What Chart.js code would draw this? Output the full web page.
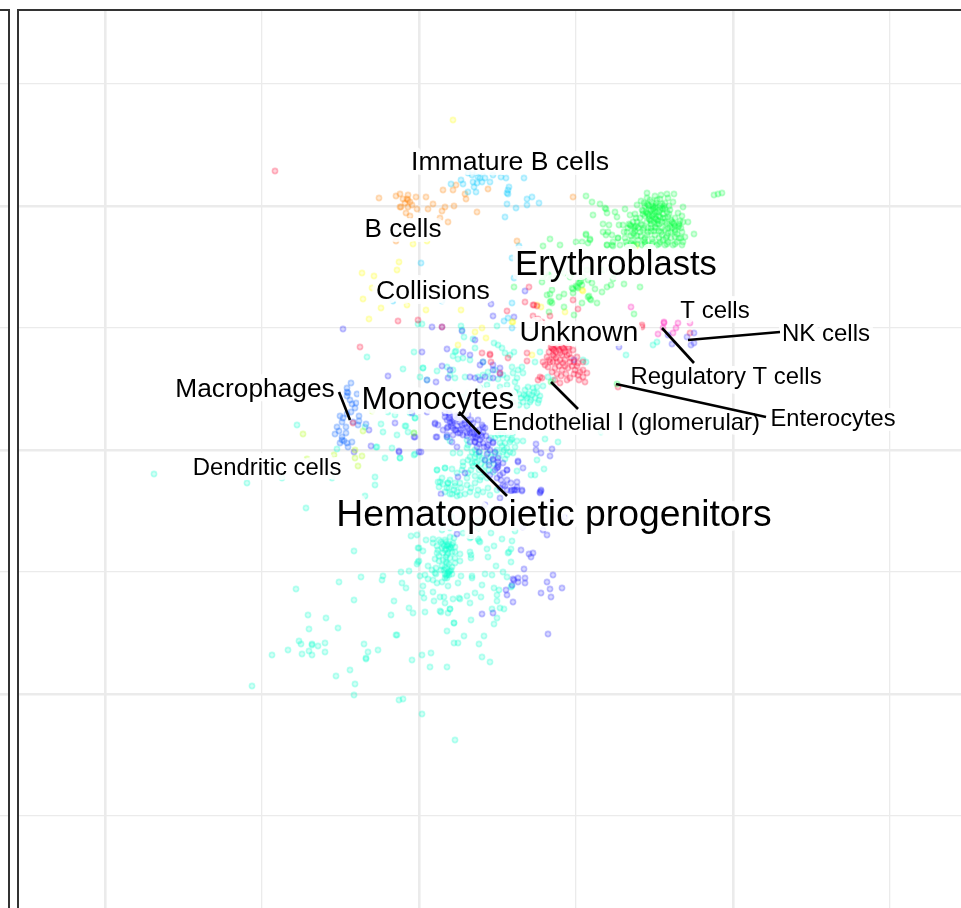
<!DOCTYPE html>
<html>
<head>
<meta charset="utf-8">
<style>
html, body { margin: 0; padding: 0; background: #fff; overflow: hidden; }
#left-panel { position: absolute; left: 0; top: 0; }
#main-panel { position: absolute; left: 0; top: 0; }
</style>
<script src="https://cdn.jsdelivr.net/npm/chart.js@4"></script>
</head>
<body>
<canvas id="main-panel" width="961" height="908"></canvas>
<canvas id="left-panel" width="10" height="908"></canvas>
<script>
// grid lines of the two facets
const xGrid = [-314, -157, 0, 157, 314, 471];
const yGrid = [366, 244, 122, 0, -122, -244, -366];
const xMajor = [-314, 0, 314];
const yMajor = [244, 0, -244];

// cell clouds, [x, y]
const hematopoietic = [[-65,-101],[-123,-139],[-80,-132],[-58,-127],[-37,-130],[-36,-126],[-18,-122],[-10,-121],[-8,-86],[-2,-85],[-1,-98],[0,-98],[4,-101],[-17,-133],[-13,-138],[-65,-150],[-25,-151],[-111,-165],[-93,-168],[-81,-178],[-110,-179],[-120,-191],[-118,-194],[-107,-194],[-107,-195],[-101,-196],[-94,-193],[-131,-200],[-147,-205],[-117,-204],[-110,-201],[-107,-205],[-94,-202],[-55,-194],[-51,-202],[-41,-200],[-53,-209],[-53,-208],[-23,-185],[-22,-185],[-28,-165],[-10,-158],[-6,-163],[6,-162],[21,-161],[29,-163],[31,-159],[35,-173],[28,-181],[52,-170],[45,-186],[65,-186],[35,-193],[39,-193],[60,-194],[3,-205],[12,-203],[-7,-210],[11,-217],[28,-217],[63,-207],[71,-212],[-69,-220],[-83,-226],[-64,-234],[-65,-245],[-20,-250],[-16,-249],[3,-264],[36,-290],[-167,-236],
[7,-90],[14,-89],[20,-90],[26,-90],[31,-87],[35,-88],[14,-93],[24,-94],[28,-95],[29,-96],[31,-97],[32,-98],[36,-97],[34,-93],[23,-98],[19,-100],[18,-103],[26,-100],[33,-102],[29,-103],[41,-104],[51,-102],[52,-105],[52,-108],[16,-109],[20,-111],[27,-107],[36,-108],[41,-111],[36,-113],[28,-113],[23,-116],[17,-118],[13,-120],[16,-123],[17,-124],[30,-122],[31,-121],[29,-123],[28,-125],[27,-126],[26,-118],[33,-117],[-1,-112],[0,-111],[-2,-114],[9,-116],[1,-126],[6,-125],[9,-129],[14,-130],[18,-133],[23,-132],[26,-128],[29,-136],[42,-126],[39,-133],[53,-126],[53,-128],[66,-124],[73,-125],[63,-135],[84,-122],[88,-127],[93,-136],[92,-137],[75,-138],[80,-140],[78,-145],[78,-151],[73,-159],[81,-158],[85,-159],[78,-168],[75,-174],[4,-136],[3,-143],[5,-148],[14,-142],[15,-151],[21,-147],[25,-147],[26,-153],[22,-162],[31,-159],[34,-149],[40,-148],[41,-149],[48,-146],[56,-143],[62,-147],[51,-153],[35,-173],[68,-99],[69,-107],[75,-96],[83,-89],[93,-91],[96,-81],[92,-99],[89,-103],[90,-102],[92,-112],[77,-116],[72,-83],[59,-78],[51,-88],[52,-87],[61,-92],[60,-91],[59,-89],[44,-83],[23,-80],[31,-78],
[28,13],[31,9],[34,-3],[41,-3],[49,5],[48,2],[53,-2],[56,0],[51,-7],[56,-7],[61,-2],[48,10],[79,15],[84,12],[89,15],[94,17],[86,7],[91,8],[81,7],[76,12],[88,2],[96,3],[78,0],[84,-2],[91,-2],[88,-5],[94,-3],[104,9],[118,-10],[126,11],[139,8],[98,-21],[112,-25],[116,-25],[125,-19],[44,-12],[44,-16],[49,-10],[53,-13],[56,-12],[43,-20],[49,-23],[18,-20],[26,-18],[33,-19],[38,-23],[23,-28],[31,-30],[19,-32],[20,-37],[28,-38],[35,-40],[41,-33],[48,-35],[41,-45],[51,-42],[56,-33],[61,-30],[59,-40],[64,-42],[69,-38],[58,-45],[71,-45],[48,-28],[78,-40],[36,-33],[29,-33],[33,-67],[43,-70],[49,-63],[26,-70],[59,-70],[22,-56],[72,-60],
[42,124],[43,120],[78,124],[45,113],[54,111],[75,107],[79,105],[83,102],[37,99],[34,94],[56,102],[44,92],[51,90],[39,91],[64,88],[86,97],[91,95],[95,98],[4,82],[18,79],[28,83],[34,80],[31,75],[36,72],[8,70],[46,73],[59,73],[64,75],[69,78],[76,80],[71,72],[79,71],[88,72],[94,77],[99,80],[103,83],[93,83],[84,75],[98,72],[104,77],[96,68],[88,65],[81,63],[68,65],[61,62],[49,57],[44,53],[34,58],[26,55],[18,53],[106,60],[109,63],[114,62],[118,63],[124,64],[102,52],[107,54],[113,55],[118,57],[121,54],[104,48],[111,48],[119,47],[116,88],[121,98],[129,73],[134,70],[164,90],[167,88],[96,58],[91,55],[94,48],
[-1,126],[3,126],[-5,98],[36,98],[-16,81],[-52,93],[4,82],[1,73],[-31,38],[-24,35],[-4,32],[-38,26],[-13,24],[-36,18],[-22,15],[-54,23],[-42,3],[-27,2],[-4,-4],[-19,-8],[18,-20],[26,-18],[-44,-27],[-44,-35],[-54,-46],[21,-32],[29,-33],[31,-44],[38,-42],[182,18],
[-122,25],[-265,-24],[-172,-33],[-137,-28],[-87,-28],[-113,-58],[-43,3],[-82,1],[-34,-8],[-19,-8],[-5,-5],[-14,24],[-11,18],[-5,17],[-9,37],[-4,32],[238,108],[234,105],[207,95],
[57,-4],[60,-6],[63,-8],[66,-10],[58,-12],[62,-14],[66,-16],[70,-12],[72,-7],[69,-3],[75,-14],[60,-20],[65,-22],[54,-16],[52,-20],[70,-20],[74,-22],[56,-26],[62,-27],[68,-28],[83,4],[85,0],[92,10],[80,-6],[76,-3],[86,-9],[98,9],[82,16],[88,18],[93,11],[72,12],
[22,-92],[25,-96],[27,-92],[30,-94],[33,-95],[27,-99],[30,-99],[24,-103],[28,-105],[31,-108],[24,-110],[27,-112],[30,-114],[25,-120],[28,-119],[32,-120],[30,-125],[26,-124],[22,-120],[33,-124],[28,-128],[18,-96],[36,-102],[20,-106],
[108,52],[112,50],[116,52],[110,56],[115,58],[105,55],[100,56],[98,62],[120,50],[100,45],[108,44],[24,-34],[30,-38],[36,-36],[42,-38],[26,-42],[33,-44],[38,-46],[46,-44],[52,-38]];

const monocytes = [[16,26],[19,25],[17,13],[24,20],[28,15],[34,15],[36,20],[29,23],[31,28],[41,17],[48,17],[53,18],[59,15],[66,22],[63,25],[56,8],[61,10],[64,7],[69,5],[56,13],[51,8],[74,7],[71,0],[66,-10],[74,-9],[79,-8],[79,-15],[78,-18],[88,-20],[99,-11],[104,-18],[71,-25],[81,-25],[46,-23],[39,-27],[22,-44],[117,6],[117,0],[122,-3],[133,1],[131,-6],[98,-32],[98,-37],[92,-41],[88,-40],[84,-35],[103,-41],[122,-40],[122,-41],[121,-43],[81,-38],[96,-40],
[31,35],[36,35],[39,32],[28,30],[33,27],[43,25],[48,23],[53,22],[58,18],[64,23],[51,17],[44,15],[28,22],[39,17],[26,37],[49,35],[54,27],[59,30],[63,13],[56,8],[28,13],[33,8],[38,3],[58,3],[74,8],[68,3],[74,-10],[79,-17],[84,-23],[88,-20],[99,-12],[93,-40],[98,-40],[103,-40],[121,-42],[36,33],[41,28],[46,30],[34,30],[50,26],[44,22],[55,16],[60,6],
[-76,121],[13,123],[23,123],[43,119],[56,110],[28,101],[3,98],[44,98],[51,95],[31,80],[23,84],[-31,74],[8,70],[17,68],[29,72],[51,73],[56,72],[61,70],[66,73],[64,88],[61,85],[74,85],[74,80],[81,82],[81,76],[74,72],[-7,37],[8,38],[16,27],[18,13],[-20,-2],[2,-2],[-48,4],[-4,13],[-65,-2],[72,146],[74,134],[155,90],[-50,20],[-24,27],[-5,13],[0,-2],[-20,-1],
[38,-84],[102,-100],[110,-104],[114,-103],[112,-107],[105,-119],[134,-125],[128,-132],[131,-139],[143,-138],[122,-143],[132,-147],[94,-129],[95,-130],[99,-128],[99,-132],[106,-128],[106,-133],[93,-135],[87,-140],[88,-145],[94,-152],[63,-164],[74,-163],[124,-80],[128,-85],[104,-77],[129,-184],[81,-48],[66,-55],[131,-52],[146,-67],[106,159],[95,133],[200,103],
[30,32],[35,29],[38,24],[42,20],[46,26],[50,20],[54,13],[57,12],[62,15],[32,24],[37,20],[40,34],[45,33],[30,37],[52,30],[48,14],[60,20],[64,18],[67,14],[34,22],[26,33],[70,10],[65,3],[60,-2],[68,-4],[76,-2],[79,-12],[84,-13],[76,-20],[82,-30],[88,-30],[92,-33],[95,-40],[86,-36],[78,-28],[70,-15]];

const macrophages = [[-68,67],[-72,62],[-72,58],[-71,57],[-72,54],[-62,56],[-69,50],[-67,46],[-63,47],[-64,42],[-68,38],[-72,36],[-79,34],[-76,32],[-77,28],[-82,23],[-73,23],[-66,28],[-60,34],[-60,29],[-61,25],[-53,26],[-80,19],[-84,16],[-73,17],[-77,13],[-79,7],[-75,9],[-72,7],[-67,8],[-71,3],[-77,10]];

const dendritic = [[-116,16],[-56,19],[-64,-8],[-57,-6],[-61,-16],[-64,0],[-85,-5],[-47,39],[-5,17],[-112,-9]];

const collisions = [[34,330],[-6,206],[8,209],[-20,188],[-22,180],[-57,177],[-45,174],[-47,162],[-56,151],[-12,145],[-38,142],[7,140],[42,140],[122,143],[163,160],[217,204],[-50,131],[56,118],[67,112],[63,122],[39,105],[93,128],[113,95],[118,145],[94,128],[146,138],[164,159]];

const bCells = [[-40,252],[-23,254],[-19,256],[-11,255],[-16,251],[-12,251],[-11,250],[-9,248],[-3,253],[-14,247],[-7,245],[-19,243],[-18,243],[-11,243],[-2,241],[7,253],[14,246],[9,241],[26,243],[35,244],[23,239],[24,260],[34,260],[37,265],[46,256],[47,251],[69,261],[58,238],[29,228],[21,232],[-13,237],[-23,209],[154,253],[98,209],[-9,234]];

const immatureB = [[32,266],[42,270],[44,266],[49,277],[53,275],[58,278],[64,278],[59,273],[54,268],[61,272],[58,267],[63,268],[66,272],[71,268],[74,275],[55,263],[49,258],[57,258],[82,273],[87,272],[105,272],[90,263],[89,260],[88,257],[89,256],[108,251],[113,253],[120,247],[88,246],[97,242],[108,245],[86,233],[2,187],[100,204],[93,192],[95,172],[-26,149],[23,149],[93,147],[85,129],[89,132],[93,122]];

const erythroblasts = [[124,204],[131,211],[141,205],[157,208],[163,208],[167,216],[171,211],[169,207],[95,163],[123,168],[133,160],[131,156],[128,155],[140,153],[145,156],[153,162],[154,161],[158,163],[159,162],[157,164],[161,168],[160,167],[162,169],[163,165],[154,157],[169,153],[170,154],[171,151],[172,150],[178,147],[163,147],[131,148],[132,149],[133,147],[130,138],[145,143],[155,135],[176,161],[173,167],[183,158],[188,163],[192,165],[194,171],[205,166],[221,163],[215,136],[169,170],[164,173],[151,173],[129,173],[123,173],[130,175],[137,172],[145,177],[155,176],[168,180],[175,182],[185,180],[195,176],[200,178],
[187,215],[193,215],[199,212],[188,205],[194,204],[167,254],[173,248],[181,246],[186,242],[187,241],[188,237],[174,235],[196,238],[206,241],[198,233],[184,226],[190,225],[200,225],[184,218],[189,218],[167,215],[171,210],
[228,257],[242,255],[255,256],[225,247],[241,251],[249,252],[254,248],[246,247],[264,243],[218,245],[229,245],[230,244],[228,246],[236,243],[237,244],[235,242],[243,242],[244,241],[251,240],[259,237],[223,240],[224,239],[216,236],[228,237],[229,236],[227,238],[234,235],[235,236],[233,234],[241,233],[240,234],[249,233],[263,234],[211,235],[221,232],[231,230],[232,229],[230,231],[238,230],[239,229],[237,231],[246,228],[254,227],[255,226],[253,228],[259,223],[260,224],[264,228],[269,228],[275,216],[204,225],[211,225],[212,224],[210,226],[216,223],[217,224],[223,225],[229,222],[236,223],[237,222],[243,222],[249,222],[256,220],[263,218],[208,218],[214,217],[215,216],[221,218],[228,215],[236,215],[243,215],[249,217],[256,213],[264,208],[266,213],[199,212],[206,212],[213,210],[219,210],[226,208],[234,208],[241,208],[249,208],[258,208],[194,208],[188,205],[201,205],[208,205],[214,205],[223,205],[229,205],[238,205],[246,205],[254,205],[263,205],[193,205],[295,255],[299,256],[303,257],
[232,240],[238,238],[244,236],[226,234],[232,226],[240,226],[248,238],[252,230],[218,228],[224,220],[232,219],[240,219],[246,220],[252,218],[258,216],[212,214],[218,214],[226,212],[233,211],[240,212],[247,212],[233,248],[238,250],[245,244],[250,244],[222,249],[228,252],[236,254],[248,256],[205,218],[217,232],[234,241],[241,240],[246,232],[256,232],[261,229],[215,205],[225,210],[244,210],[252,212],[260,212],
[215,222],[219,222],[225,222],[232,222],[238,226],[243,228],[248,226],[251,224],[256,224],[260,226],[230,234],[236,232],[240,238],[234,244],[231,250],[226,244],[237,247],[243,246],[246,241],[241,244],[235,228],[228,228],[222,226],[214,228],[209,222],[216,219],[222,214],[229,218],[235,219],[242,218],[248,214],[253,222],[256,218],[262,222],[207,208],[212,207],[218,206],[226,206],[233,206],[240,206],[248,206],[256,206],[262,212],[230,240],[224,236],[236,238],[250,236],[244,232]];

const unknown = [[133,102],[134,101],[132,103],[138,104],[139,103],[144,102],[145,101],[143,103],[149,103],[150,102],[154,100],[128,93],[134,95],[135,94],[141,97],[148,95],[158,93],[124,88],[131,88],[138,88],[144,87],[151,88],[159,87],[164,88],[129,83],[136,82],[143,80],[149,82],[156,80],[164,80],[168,77],[159,75],[151,72],[148,70],[141,67],[136,70],[166,68],[164,73],[123,72],[119,70],[108,97],[108,89],
[135,100],[137,98],[140,100],[143,95],[146,98],[150,96],[130,90],[134,88],[137,92],[141,90],[146,90],[152,92],[155,88],[126,85],[133,78],[140,84],[146,84],[153,84],[158,84],[161,78],[147,76],[142,74],[155,76],[138,76],[160,70],[130,98],
[23,123],[63,97],[71,96],[72,88],[89,92],[81,77],[121,73],[-21,129],[-1,130],[-59,103],[71,95],[115,145],[88,139],[110,163],[106,148],[114,145],[118,144],[114,134],[131,134],[119,131],[123,128],[154,150],[159,141],[-144,279],[223,123],[223,125],[-66,27],[271,117],[199,63]];

const tCells = [[212,143],[245,128],[245,127],[259,127],[271,127],[244,122],[257,122],[254,117],[239,116]];
const nkCells = [[249,115],[253,106],[268,113],[275,117],[275,107],[272,105]];
const enterocytes = [[198,66],[132,68]];

const cellSets = [
  { name: 'Hematopoietic progenitors', values: hematopoietic, rgb: '0,255,204' },
  { name: 'Monocytes', values: monocytes, rgb: '32,32,255' },
  { name: 'Macrophages', values: macrophages, rgb: '0,96,255' },
  { name: 'Dendritic cells', values: dendritic, rgb: '170,255,0' },
  { name: 'Collisions', values: collisions, rgb: '255,255,0' },
  { name: 'B cells', values: bCells, rgb: '255,128,0' },
  { name: 'Immature B cells', values: immatureB, rgb: '0,200,255' },
  { name: 'Erythroblasts', values: erythroblasts, rgb: '0,255,64' },
  { name: 'Unknown', values: unknown, rgb: '255,0,48' },
  { name: 'T cells', values: tCells, rgb: '255,0,180' },
  { name: 'NK cells', values: nkCells, rgb: '48,48,255' },
  { name: 'Enterocytes', values: enterocytes, rgb: '0,255,64' }
];

// leader lines, from the point to the label
const leaderLines = [
  [[-80,58],[-69,30]],
  [[40,38],[61,16]],
  [[57,-15],[88,-46]],
  [[132,68],[159,41]],
  [[243,122],[275,87]],
  [[269,110],[361,118]],
  [[197,66],[347,33]]
];

const labelNames = ['Immature B cells','B cells','Erythroblasts','Collisions','T cells','NK cells','Unknown','Regulatory T cells','Macrophages','Monocytes','Endothelial I (glomerular)','Enterocytes','Dendritic cells','Hematopoietic progenitors'];
const labelX = [91,-16,197,14,296,407,160,307,-164,19,207,414,-152,135];
const labelY = [287,220,185,158,139,116,117,73,60,50,27,31,-18,-66];
const labelSizes = [26.6,26.1,34.6,26.6,24,24,28.5,23.9,26.3,31.6,24,23.7,23.9,37.3];

const gridColor = '#ebebeb';
const borderColor = '#333333';

function gridOptions(major) {
  return {
    color: gridColor,
    drawTicks: false,
    lineWidth: ctx => major.includes(ctx.tick.value) ? 2.6 : 1.3
  };
}

function eachLabel(chart, draw) {
  const { ctx, scales } = chart;
  ctx.save();
  ctx.textAlign = 'center';
  ctx.textBaseline = 'middle';
  ctx.lineJoin = 'round';
  labelNames.forEach((name, i) => {
    ctx.font = labelSizes[i] + 'px "Liberation Sans", Arial, sans-serif';
    draw(ctx, name, scales.x.getPixelForValue(labelX[i]), scales.y.getPixelForValue(labelY[i]));
  });
  ctx.restore();
}

// halo goes over the points but under the leader lines, the text on top of all
const labelPlugin = {
  id: 'cellLabels',
  beforeDatasetDraw(chart, args) {
    if (args.index !== chart.data.datasets.length - 1) return;
    eachLabel(chart, (ctx, name, px, py) => {
      ctx.strokeStyle = 'rgba(255,255,255,0.85)';
      ctx.lineWidth = 10;
      ctx.strokeText(name, px, py);
    });
  },
  afterDatasetsDraw(chart) {
    eachLabel(chart, (ctx, name, px, py) => {
      ctx.fillStyle = '#000';
      ctx.fillText(name, px, py);
    });
  }
};

const datasets = [];
cellSets.forEach((set, i) => {
  datasets.push({
    label: set.name,
    data: set.values.map(v => ({ x: v[0], y: v[1] })),
    backgroundColor: 'rgba(' + set.rgb + ',0.17)',
    borderColor: 'rgba(' + set.rgb + ',0.27)',
    borderWidth: 1.6,
    pointRadius: 2.6,
    showLine: false,
    order: cellSets.length - i
  });
});
leaderLines.forEach(line => {
  datasets.push({
    data: line.map(v => ({ x: v[0], y: v[1] })),
    borderColor: '#000',
    borderWidth: 2.6,
    pointRadius: 0,
    showLine: true,
    order: 0
  });
});

new Chart(document.getElementById('main-panel'), {
  type: 'scatter',
  data: { datasets },
  options: {
    responsive: false,
    animation: false,
    layout: { autoPadding: false, padding: { left: 18, top: 10, right: 0, bottom: 0 } },
    plugins: { legend: { display: false }, tooltip: { enabled: false } },
    scales: {
      x: {
        position: 'top',
        min: -401,
        max: 542,
        afterBuildTicks: axis => { axis.ticks = xGrid.map(value => ({ value })); },
        ticks: { display: false },
        grid: gridOptions(xMajor),
        border: { display: true, color: borderColor, width: 2 }
      },
      y: {
        min: -458,
        max: 440,
        afterBuildTicks: axis => { axis.ticks = yGrid.map(value => ({ value })); },
        ticks: { display: false },
        grid: gridOptions(yMajor),
        border: { display: true, color: borderColor, width: 2 }
      }
    }
  },
  plugins: [labelPlugin]
});

// the neighbouring facet, only its right edge is in view
new Chart(document.getElementById('left-panel'), {
  type: 'scatter',
  data: { datasets: [] },
  options: {
    responsive: false,
    animation: false,
    layout: { autoPadding: false, padding: { left: 0, top: 10, right: 1, bottom: 0 } },
    plugins: { legend: { display: false }, tooltip: { enabled: false } },
    scales: {
      x: {
        position: 'top',
        min: 0,
        max: 1,
        afterBuildTicks: axis => { axis.ticks = []; },
        ticks: { display: false },
        grid: { drawTicks: false },
        border: { display: true, color: borderColor, width: 2 }
      },
      y: {
        position: 'right',
        min: -458,
        max: 440,
        afterBuildTicks: axis => { axis.ticks = yGrid.map(value => ({ value })); },
        ticks: { display: false },
        grid: gridOptions(yMajor),
        border: { display: true, color: borderColor, width: 2 }
      }
    }
  }
});
</script>
</body>
</html>
